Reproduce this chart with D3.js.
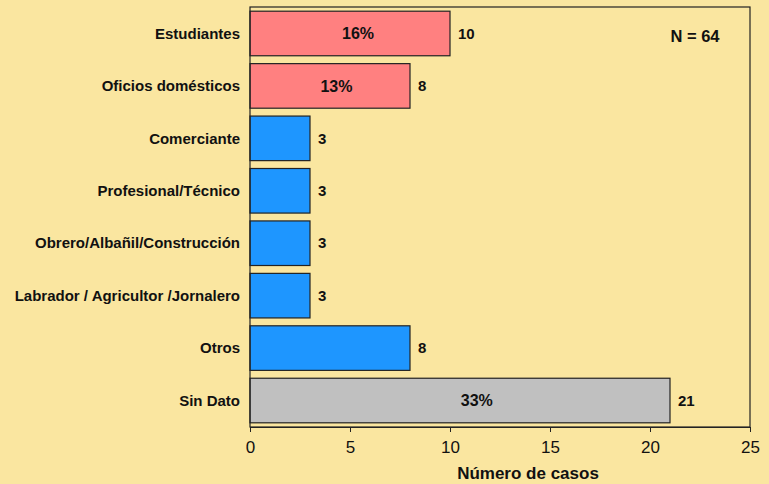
<!DOCTYPE html>
<html>
<head>
<meta charset="utf-8">
<script src="https://cdn.jsdelivr.net/npm/d3@7"></script>
<style>
  body { margin: 0; background: #fae6a0; }
  svg { display: block; font-family: "Liberation Sans", Arial, sans-serif; }
</style>
</head>
<body>
<svg id="chart"></svg>
<script>
// data
const categories = ['Estudiantes', 'Oficios domésticos', 'Comerciante', 'Profesional/Técnico',
    'Obrero/Albañil/Construcción', 'Labrador / Agricultor /Jornalero', 'Otros', 'Sin Dato'];
const counts = [10, 8, 3, 3, 3, 3, 8, 21];
const groups = ['red', 'red', 'blue', 'blue', 'blue', 'blue', 'blue', 'gray'];
const pctLabels = ['16%', '13%', '', '', '', '', '', '33%'];
const xTicks = [0, 5, 10, 15, 20, 25];
const totalN = 64;

const colors = {red: '#ff8080', blue: '#1e96ff', gray: '#c0c0c0'};

const width = 769, height = 484;
const margin = {top: 7, right: 19, bottom: 57, left: 250};
const w = width - margin.left - margin.right;
const h = height - margin.top - margin.bottom;

const svg = d3.select('#chart')
    .attr('width', width)
    .attr('height', height);

svg.append('rect')
    .attr('width', width)
    .attr('height', height)
    .attr('fill', '#fae6a0');

const g = svg.append('g')
    .attr('transform', `translate(${margin.left},${margin.top})`);

const x = d3.scaleLinear()
    .domain([0, 25])
    .range([0, w]);

const y = d3.scaleBand()
    .domain(categories)
    .range([0, h])
    .paddingInner(0.15)
    .paddingOuter(0.08);

const data = categories.map((c, i) => ({cat: c, n: counts[i], grp: groups[i], pct: pctLabels[i]}));

// bars
g.selectAll('.bar')
    .data(data)
    .join('rect')
    .attr('class', 'bar')
    .attr('x', 0)
    .attr('y', d => y(d.cat))
    .attr('width', d => x(d.n))
    .attr('height', y.bandwidth())
    .attr('fill', d => colors[d.grp])
    .attr('stroke', '#222')
    .attr('stroke-width', 1.2);

// count labels
g.selectAll('.count')
    .data(data)
    .join('text')
    .attr('class', 'count')
    .attr('x', d => x(d.n) + 8)
    .attr('y', d => y(d.cat) + y.bandwidth() / 2)
    .attr('dy', '0.35em')
    .attr('font-size', '15px')
    .attr('font-weight', 'bold')
    .attr('fill', '#111')
    .text(d => d.n);

// percent labels inside (sit a little right of the bar middle)
g.selectAll('.pct')
    .data(data.filter(d => d.pct))
    .join('text')
    .attr('class', 'pct')
    .attr('x', d => x(d.n * 0.54))
    .attr('y', d => y(d.cat) + y.bandwidth() / 2)
    .attr('dy', '0.35em')
    .attr('text-anchor', 'middle')
    .attr('font-size', '16px')
    .attr('font-weight', 'bold')
    .attr('fill', '#111')
    .text(d => d.pct);

// category labels
g.selectAll('.cat')
    .data(data)
    .join('text')
    .attr('class', 'cat')
    .attr('x', -10)
    .attr('y', d => y(d.cat) + y.bandwidth() / 2)
    .attr('dy', '0.35em')
    .attr('text-anchor', 'end')
    .attr('font-size', '15px')
    .attr('font-weight', 'bold')
    .attr('fill', '#111')
    .text(d => d.cat);

// frame
g.append('rect')
    .attr('width', w)
    .attr('height', h)
    .attr('fill', 'none')
    .attr('stroke', '#222')
    .attr('stroke-width', 1.2);

// x axis
const xAxis = d3.axisBottom(x)
    .tickValues(xTicks)
    .tickSize(5)
    .tickSizeOuter(0)
    .tickPadding(9);

const xAxisG = g.append('g')
    .attr('transform', `translate(0,${h})`)
    .call(xAxis);
xAxisG.select('.domain').attr('stroke', '#222').attr('stroke-width', 1.2);
xAxisG.selectAll('.tick line').attr('stroke', '#222');
xAxisG.selectAll('.tick text')
    .attr('font-size', '17px')
    .attr('fill', '#111')
    .attr('font-family', '"Liberation Sans", Arial, sans-serif');

// axis title
g.append('text')
    .attr('x', w / 2 + 28)
    .attr('y', h + 52)
    .attr('text-anchor', 'middle')
    .attr('font-size', '17px')
    .attr('font-weight', 'bold')
    .attr('fill', '#111')
    .text('Número de casos');

// N label
g.append('text')
    .attr('x', x(22.25))
    .attr('y', 29)
    .attr('dy', '0.35em')
    .attr('text-anchor', 'middle')
    .attr('font-size', '16.5px')
    .attr('font-weight', 'bold')
    .attr('fill', '#111')
    .text('N = ' + totalN);
</script>
</body>
</html>
